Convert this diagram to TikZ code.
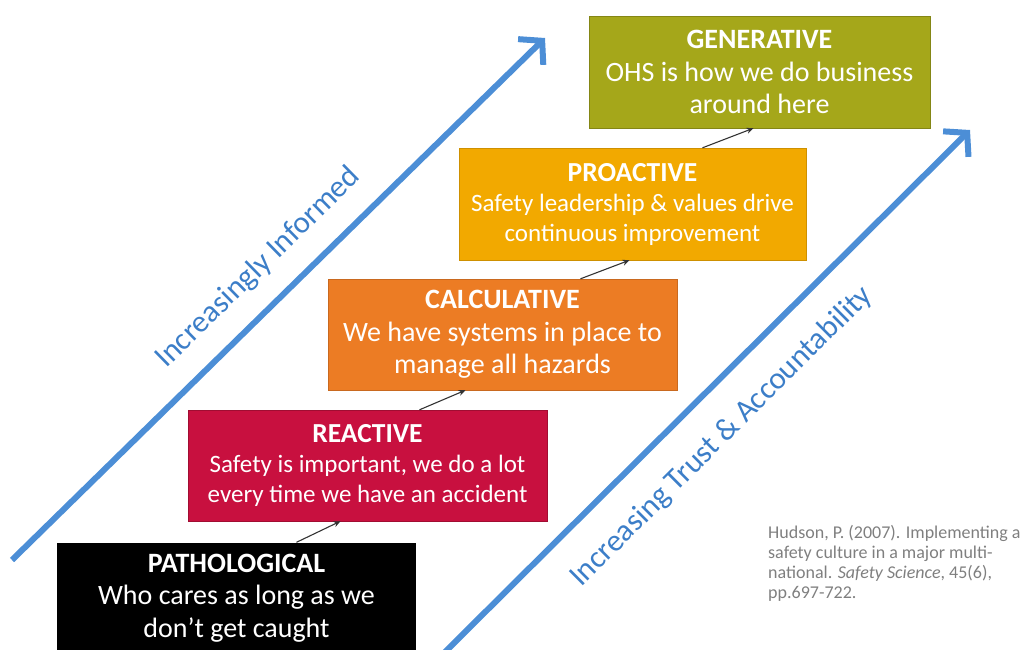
\documentclass[tikz,border=0pt]{standalone}
\usepackage{fontspec}
\setmainfont{Carlito}
\usetikzlibrary{positioning, arrows.meta}

\definecolor{genolive}{HTML}{A5A71A}
\definecolor{proamber}{HTML}{F2A900}
\definecolor{calcorange}{HTML}{EC7C24}
\definecolor{reactred}{HTML}{C8103F}
\definecolor{trendblue}{HTML}{4C8ED6}
\definecolor{labelblue}{HTML}{3C7EC8}
\definecolor{citegray}{HTML}{7F7F7F}

\begin{document}
\begin{tikzpicture}[
        x=1pt, y=-1pt,
        >=Stealth,
        stage/.style={rectangle, minimum height=111pt, align=center,
            text=white, inner sep=0pt},
        bigtext/.style={font=\fontsize{28}{32.5}\selectfont},
        smalltext/.style={font=\fontsize{25}{30}\selectfont},
        step link/.style={->, line width=1.1pt, draw=black!80,
            >={Stealth[length=7pt, width=6pt]}},
        trend/.style={line width=6pt, draw=trendblue,
            -{Straight Barb[length=16pt, width=36pt, line width=6pt]}},
        trend label/.style={sloped, inner sep=0pt, text=labelblue,
            font=\fontsize{31}{34}\selectfont}
    ]
        \useasboundingbox (0,0) rectangle (1029,650);

        % the five culture stages
        \node[stage, bigtext, fill=black, minimum width=359pt] (path) at (236.5,598)
            {\textbf{PATHOLOGICAL}\\Who cares as long as we\\don’t get caught};
        \node[stage, smalltext, fill=reactred, draw=reactred!80!black, minimum width=359pt] (react) at (367.5,465.5)
            {{\fontsize{27.5}{30}\selectfont\textbf{REACTIVE}}\\Safety is important, we do a lot\\every time we have an accident};
        \node[stage, bigtext, fill=calcorange, draw=calcorange!85!black, minimum width=349pt] (calc) at (502.5,334.5)
            {\textbf{CALCULATIVE}\\We have systems in place to\\manage all hazards};
        \node[stage, smalltext, fill=proamber, draw=proamber!85!black, minimum width=347pt, minimum height=112pt] (pro) at (632.5,204)
            {{\fontsize{27.5}{30}\selectfont\textbf{PROACTIVE}}\\Safety leadership \& values drive\\continuous improvement};
        \node[stage, bigtext, fill=genolive, draw=genolive!80!black, minimum width=341pt, minimum height=112pt] (gen) at (759.5,72)
            {\textbf{GENERATIVE}\\OHS is how we do business\\around here};

        % small steps between stages
        \draw[step link] ([xshift=60pt]path.north) -- ([xshift=-27pt]react.south);
        \draw[step link] ([xshift=52pt]react.north) -- ([xshift=-37pt]calc.south);
        \draw[step link] ([xshift=78pt]calc.north) -- ([xshift=-3pt]pro.south);
        \draw[step link] ([xshift=70pt]pro.north) -- ([xshift=-6pt]gen.south);

        % the two trend arrows
        \coordinate (informed start) at (12,560);
        \coordinate (informed end) at (545,38);
        \coordinate (trust start) at (445,652);
        \coordinate (trust end) at (970,130);
        \draw[trend] (informed start) -- node[trend label, pos=0.51, above=20pt] {Increasingly Informed} (informed end);
        \draw[trend] (trust start) -- node[trend label, pos=0.47, below=26pt] {Increasing Trust \& Accountability} (trust end);

        \node[anchor=north west, align=left, inner sep=0pt, text=citegray,
            font=\fontsize{18}{20}\selectfont] (cite) at (768,525)
            {Hudson, P. (2007). Implementing a\\safety culture in a major multi-\\national. \textit{Safety Science}, 45(6),\\pp.697-722.};
\end{tikzpicture}
\end{document}
